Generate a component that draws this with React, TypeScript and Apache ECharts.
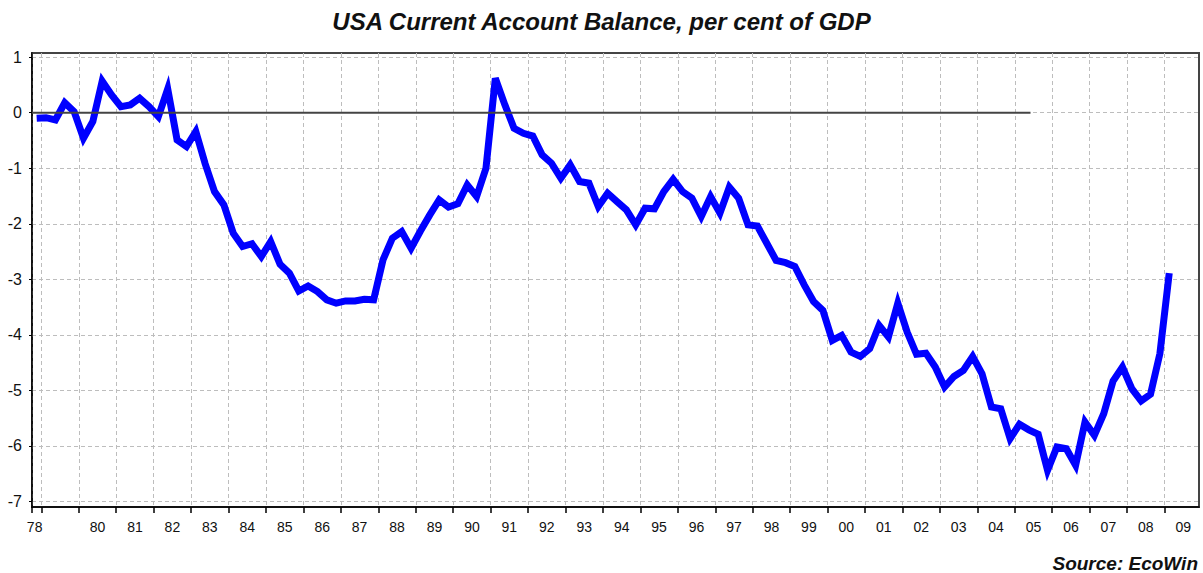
import React, { useEffect, useRef } from "react";
import * as echarts from "echarts";

// Quarterly USA current account balance, % of GDP (Q4 1978 .. Q1 2009)
const firstQuarterStart = 1978.75; // Q4 1978
const balance1978to1989 = [
  -0.10,
  -0.09, -0.13, 0.18, 0.02,
  -0.46, -0.16, 0.57, 0.32,
  0.11, 0.14, 0.26, 0.11,
  -0.07, 0.43, -0.49, -0.61,
  -0.34, -0.92, -1.42, -1.66,
  -2.17, -2.41, -2.36, -2.59,
  -2.32, -2.73, -2.89, -3.21,
  -3.12, -3.22, -3.37, -3.43,
  -3.39, -3.39, -3.36, -3.37,
  -2.65, -2.26, -2.14, -2.44,
  -2.13, -1.84, -1.57, -1.70,
];
const balance1990to1999 = [
  -1.64, -1.30, -1.51, -1.00,
  0.62, 0.15, -0.28, -0.37,
  -0.42, -0.76, -0.91, -1.18,
  -0.94, -1.24, -1.27, -1.69,
  -1.45, -1.60, -1.75, -2.02,
  -1.72, -1.73, -1.42, -1.20,
  -1.42, -1.54, -1.87, -1.51,
  -1.81, -1.34, -1.54, -2.02,
  -2.04, -2.35, -2.66, -2.70,
  -2.77, -3.10, -3.40, -3.56,
];
const balance2000to2009 = [
  -4.10, -4.01, -4.31, -4.39,
  -4.25, -3.83, -4.04, -3.43,
  -3.95, -4.35, -4.33, -4.58,
  -4.94, -4.75, -4.64, -4.39,
  -4.70, -5.30, -5.33, -5.87,
  -5.61, -5.71, -5.79, -6.44,
  -6.02, -6.05, -6.35, -5.57,
  -5.81, -5.42, -4.83, -4.58,
  -4.97, -5.19, -5.07, -4.34,
  -2.89,
];
const balance = [...balance1978to1989, ...balance1990to1999, ...balance2000to2009];

// Axis ticks / labels
const yearTicks = [1978.75, 1979, 1980, 1981, 1982, 1983, 1984, 1985, 1986, 1987, 1988, 1989, 1990, 1991, 1992, 1993, 1994, 1995, 1996, 1997, 1998, 1999, 2000, 2001, 2002, 2003, 2004, 2005, 2006, 2007, 2008, 2009];
const yearLabelYears = [1978, 1980, 1981, 1982, 1983, 1984, 1985, 1986, 1987, 1988, 1989, 1990, 1991, 1992, 1993, 1994, 1995, 1996, 1997, 1998, 1999, 2000, 2001, 2002, 2003, 2004, 2005, 2006, 2007, 2008, 2009];
const yTicks = [-7, -6, -5, -4, -3, -2, -1, 0, 1];
const zeroLineEnd = 2005.42;

const FONT = "'Liberation Sans', Arial, sans-serif";

export default function App() {
  const ref = useRef<HTMLDivElement>(null);
  useEffect(() => {
    if (!ref.current) return;
    const chart = echarts.init(ref.current, undefined, { renderer: "svg" });
    const seriesData = balance.map((v, i) => [firstQuarterStart + (i + 0.5) / 4, v]);
    const labelValues = yearLabelYears.map((y) => (y === 1978 ? 1978.82 : y + 0.5));
    chart.setOption({
      animation: false,
      backgroundColor: "#ffffff",
      title: {
        text: "USA Current Account Balance, per cent of GDP",
        left: "center",
        top: 4,
        textStyle: { fontFamily: FONT, fontWeight: "bold", fontStyle: "italic", fontSize: 24, color: "#111" },
      },
      grid: {
        left: 32,
        right: 4,
        top: 53,
        bottom: 66,
        show: true,
        borderColor: "#444",
        borderWidth: 2,
        containLabel: false,
      },
      xAxis: {
        type: "value",
        min: 1978.75,
        max: 2009.92,
        axisLine: { show: true, onZero: false, lineStyle: { color: "#000", width: 1.5 } },
        axisTick: { show: true, customValues: yearTicks, length: 6, lineStyle: { color: "#000", width: 1.5 } },
        axisLabel: {
          customValues: labelValues,
          formatter: (v: number) => String(Math.floor(v) % 100).padStart(2, "0"),
          fontFamily: FONT,
          fontSize: 14,
          color: "#111",
          margin: 13,
        },
        splitLine: { show: true, lineStyle: { color: "#bdbdbd", type: [4, 3], width: 1 } },
      },
      yAxis: {
        type: "value",
        min: -7.1,
        max: 1.075,
        axisLine: { show: true, lineStyle: { color: "#000", width: 1.5 } },
        axisTick: { show: true, customValues: yTicks, length: 3, lineStyle: { color: "#000" } },
        axisLabel: {
          customValues: yTicks,
          fontFamily: FONT,
          fontSize: 16,
          color: "#111",
          margin: 10,
        },
        splitLine: { show: true, lineStyle: { color: "#bdbdbd", type: [4, 3], width: 1 } },
      },
      series: [
        {
          type: "line",
          data: seriesData,
          showSymbol: false,
          lineStyle: { color: "#0000ff", width: 7, join: "miter" },
          z: 2,
        },
        {
          type: "line",
          data: [[firstQuarterStart, 0], [zeroLineEnd, 0]],
          showSymbol: false,
          lineStyle: { color: "#444", width: 2 },
          z: 3,
        },
      ],
      graphic: [
        {
          type: "text",
          right: 5,
          top: 554,
          style: { text: "Source: EcoWin", font: `italic bold 19px ${FONT}`, fill: "#111" },
        },
      ],
    });
    return () => chart.dispose();
  }, []);
  return <div ref={ref} style={{ position: "fixed", left: 0, top: 0, width: 1203, height: 573, background: "#fff" }} />;
}
